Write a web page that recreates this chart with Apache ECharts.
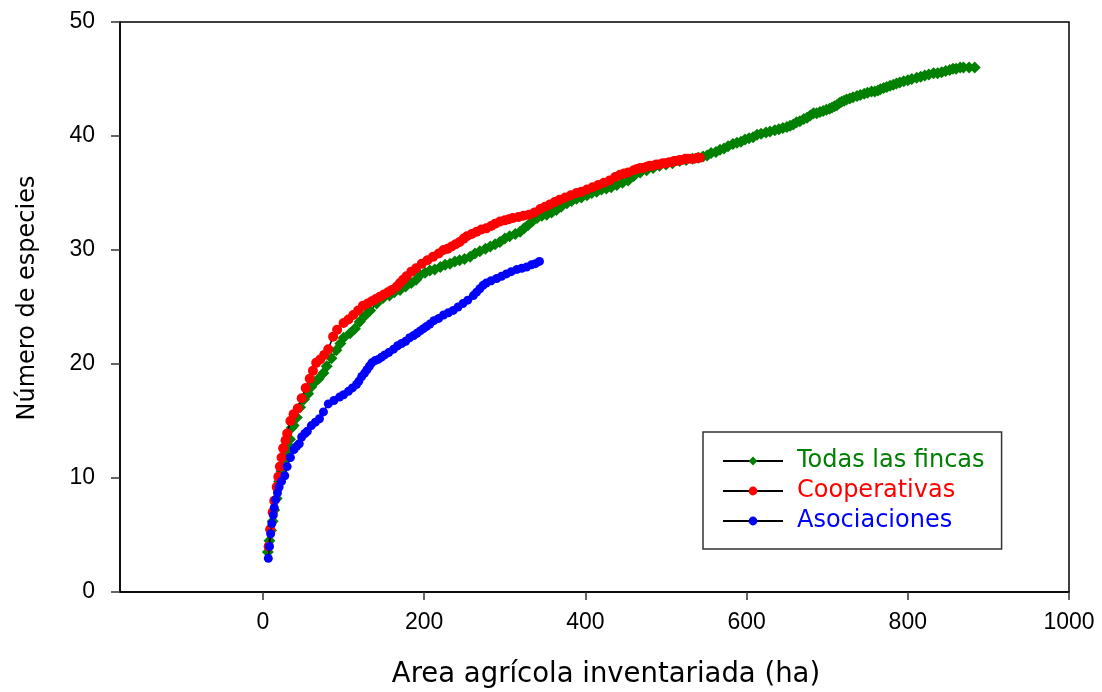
<!DOCTYPE html>
<html>
<head>
<meta charset="utf-8">
<script src="https://cdn.jsdelivr.net/npm/echarts@6/dist/echarts.min.js"></script>
<style>html,body{margin:0;padding:0;background:#fff}#c{width:1102px;height:692px}</style>
</head>
<body>
<div id="c"></div>
<script>
const seriesNames = ['Todas las fincas', 'Cooperativas', 'Asociaciones'];
const xTicks = [0, 200, 400, 600, 800, 1000];
const xTitle = 'Area agrícola inventariada (ha)';
const yTitle = 'Número de especies';

const todasData = [[6,3.5],[8,4.5],[10,5.4],[12,6.2],[14,7.2],[17,8.2],[20,9.7],[23,10.6],[26,11.6],[28.5,12.3],[31,12.9],[33.5,13.4],[35.6,14.4],[38,14.6],[42,15.3],[46,16.2],[51,16.9],[56,17.4],[60,18],[64,18.4],[69,18.7],[75,19.2],[79,19.8],[85,20.5],[91,21.2],[96,21.8],[100,22.3],[108,22.7],[114,23.1],[120,23.7],[126,24.2],[133,24.7],[141,25.3],[149,25.8],[157,26.0],[163,26.3],[170,26.5],[177,26.8],[184,27.1],[190,27.4],[195,27.8],[201,28.0],[207,28.2],[213,28.3],[220,28.5],[226,28.7],[232,28.8],[238,29.0],[244,29.1],[250,29.2],[257,29.4],[263,29.7],[269,29.9],[276,30.1],[282,30.3],[288,30.5],[294,30.7],[300,31.0],[306,31.2],[313,31.4],[319,31.6],[324,31.9],[329,32.2],[334,32.5],[340,32.8],[346,33.0],[352,33.1],[358,33.3],[364,33.5],[370,33.8],[377,34.1],[383,34.3],[389,34.5],[395,34.6],[402,34.8],[408,35.0],[414,35.1],[420,35.3],[426,35.4],[432,35.5],[439,35.7],[446,35.9],[453,36.1],[460,36.5],[468,36.8],[476,37.0],[484,37.2],[492,37.4],[500,37.5],[508,37.6],[517,37.8],[525,37.9],[533,38.0],[540,38.1],[546,38.2],[551,38.3],[556,38.5],[562,38.6],[567,38.8],[572,38.9],[577,39.1],[583,39.3],[588,39.4],[593,39.5],[598,39.7],[603,39.8],[608,39.9],[613,40.1],[618,40.2],[624,40.3],[629,40.4],[635,40.5],[640,40.6],[645,40.7],[650,40.8],[654,40.9],[658,41.0],[662,41.2],[666,41.3],[671,41.5],[675,41.6],[679,41.8],[683,42.0],[687,42.0],[691,42.1],[695,42.2],[699,42.3],[703,42.4],[706,42.5],[709,42.6],[712,42.7],[715,42.9],[718,43.0],[721,43.1],[724,43.2],[728,43.3],[732,43.4],[737,43.5],[741,43.6],[746,43.7],[750,43.8],[755,43.9],[759,43.9],[763,44.0],[766,44.1],[770,44.2],[774,44.3],[778,44.4],[782,44.5],[786,44.6],[790,44.7],[795,44.8],[800,44.9],[805,45.0],[811,45.1],[816,45.2],[821,45.3],[826,45.4],[832,45.5],[837,45.5],[842,45.6],[847,45.7],[852,45.8],[856,45.9],[860,45.9],[865,46.0],[869,46.0],[876,46.0],[883,46.0]];

const coopData = [[7,4.0],[9,5.5],[12,7.0],[14,8.0],[17,9.2],[19,10.1],[21,11.0],[23,11.8],[25,12.6],[28,13.3],[30,13.9],[34,15.0],[38,15.6],[43,16.1],[48,17.0],[53,17.9],[58,18.7],[62,19.4],[66,20.1],[71,20.4],[76,20.8],[81,21.3],[87,22.4],[92,23.0],[100,23.6],[106,23.9],[112,24.3],[118,24.7],[124,25.1],[130,25.3],[135,25.5],[140,25.7],[145,25.9],[150,26.1],[155,26.3],[160,26.5],[166,26.8],[170,27.1],[174,27.4],[178,27.7],[184,28.1],[190,28.4],[197,28.8],[204,29.1],[211,29.4],[218,29.7],[224,30.0],[229,30.1],[234,30.3],[239,30.5],[244,30.7],[249,31.0],[253,31.2],[259,31.4],[265,31.6],[271,31.8],[277,31.9],[283,32.1],[288,32.3],[294,32.5],[300,32.6],[305,32.7],[310,32.8],[317,32.9],[323,33.0],[330,33.1],[337,33.3],[344,33.6],[350,33.8],[356,34.0],[362,34.2],[368,34.4],[375,34.6],[382,34.8],[389,35.0],[395,35.1],[402,35.3],[409,35.5],[416,35.7],[423,35.9],[430,36.1],[437,36.4],[443,36.6],[448,36.7],[453,36.8],[460,37.0],[464,37.1],[468,37.2],[472,37.2],[476,37.3],[480,37.4],[484,37.4],[488,37.5],[492,37.5],[496,37.6],[500,37.6],[504,37.7],[507,37.7],[510,37.8],[513,37.8],[517,37.9],[520,37.9],[524,38.0],[527,38.0],[531,38.0],[535,38.0],[539,38.1],[542,38.1]];

const asocData = [[6.6,2.95],[8,4.0],[9.5,5.1],[11,6.0],[12.8,6.75],[14,7.4],[15.7,8.1],[18,8.7],[20,9.2],[23,9.7],[27,10.2],[30,11.0],[34,11.8],[38.5,12.5],[42,12.8],[45,13.0],[48,13.6],[52,13.9],[55,14.1],[60,14.6],[65,14.9],[70,15.2],[75,15.8],[81,16.5],[88,16.8],[95,17.1],[100,17.3],[106,17.6],[111,17.9],[116,18.2],[119,18.5],[122.5,18.9],[126,19.2],[129,19.5],[132,19.8],[135,20.1],[139,20.3],[143,20.4],[147,20.6],[151,20.8],[156,21.0],[162,21.3],[167,21.6],[172,21.8],[177,22.0],[182,22.3],[187,22.5],[191,22.7],[195,22.9],[199,23.1],[203,23.3],[207,23.5],[212,23.8],[218,24.0],[224,24.3],[230,24.5],[236,24.7],[242,25.0],[248,25.3],[254,25.6],[261,26.0],[265,26.3],[269,26.6],[273,26.9],[277,27.1],[283,27.3],[290,27.5],[296,27.7],[302,27.9],[308,28.1],[315,28.3],[321,28.4],[327,28.5],[333,28.7],[338,28.8],[343,29.0]];

const colors = ['#008000', '#ff0000', '#0000ff'];
const symbols = ['diamond', 'circle', 'circle'];
const sizes = [12, 10, 9];
const datasets = [todasData, coopData, asocData];

const chart = echarts.init(document.getElementById('c'));
const option = {
  animation: false,
  backgroundColor: '#fff',
  grid: { left: 120, right: 33, top: 22, bottom: 100, show: true, borderColor: '#000', borderWidth: 1.5, backgroundColor: 'transparent' },
  xAxis: {
    type: 'value', min: -177.4, max: 1000,
    axisLine: { show: true, onZero: false, lineStyle: { color: '#000', width: 1.5 } },
    axisTick: { show: true, customValues: xTicks, length: 8, lineStyle: { color: '#333', width: 1.5 } },
    axisLabel: { customValues: xTicks, formatter: v => String(v), fontSize: 23, fontFamily: 'Liberation Sans', color: '#000', margin: 19 },
    splitLine: { show: false }
  },
  yAxis: {
    type: 'value', min: 0, max: 50, interval: 10,
    axisLine: { show: true, onZero: false, lineStyle: { color: '#000', width: 1.5 } },
    axisTick: { show: true, length: 9, lineStyle: { color: '#333', width: 1.5 } },
    axisLabel: { fontSize: 23, fontFamily: 'Liberation Sans', color: '#000', margin: 25 },
    splitLine: { show: false }
  },
  legend: {
    orient: 'vertical', left: 703, top: 432,
    data: seriesNames.map((n, i) => ({ name: n, textStyle: { color: colors[i] } })),
    itemWidth: 60, itemHeight: 11, itemGap: 6,
    padding: [17, 17, 16, 19],
    borderColor: '#333', borderWidth: 1.5, backgroundColor: '#fff',
    textStyle: { fontSize: 24, fontFamily: 'DejaVu Sans', lineHeight: 24, padding: [0, 0, 0, 9] }
  },
  graphic: [
    { type: 'text', x: 606, y: 675, style: { text: xTitle, font: '27.5px "DejaVu Sans"', fill: '#000', align: 'center', verticalAlign: 'middle' } },
    { type: 'text', x: 28, y: 298, rotation: Math.PI / 2, style: { text: yTitle, font: '24px "DejaVu Sans"', fill: '#000', align: 'center', verticalAlign: 'middle' } }
  ],
  series: datasets.map((d, i) => ({
    name: seriesNames[i], type: 'line', data: d,
    symbol: symbols[i], symbolSize: sizes[i], showAllSymbol: true,
    itemStyle: { color: colors[i] },
    lineStyle: { color: '#000', width: 1.5 },
    z: 2 + i
  }))
};
chart.setOption(option);
</script>
</body>
</html>
